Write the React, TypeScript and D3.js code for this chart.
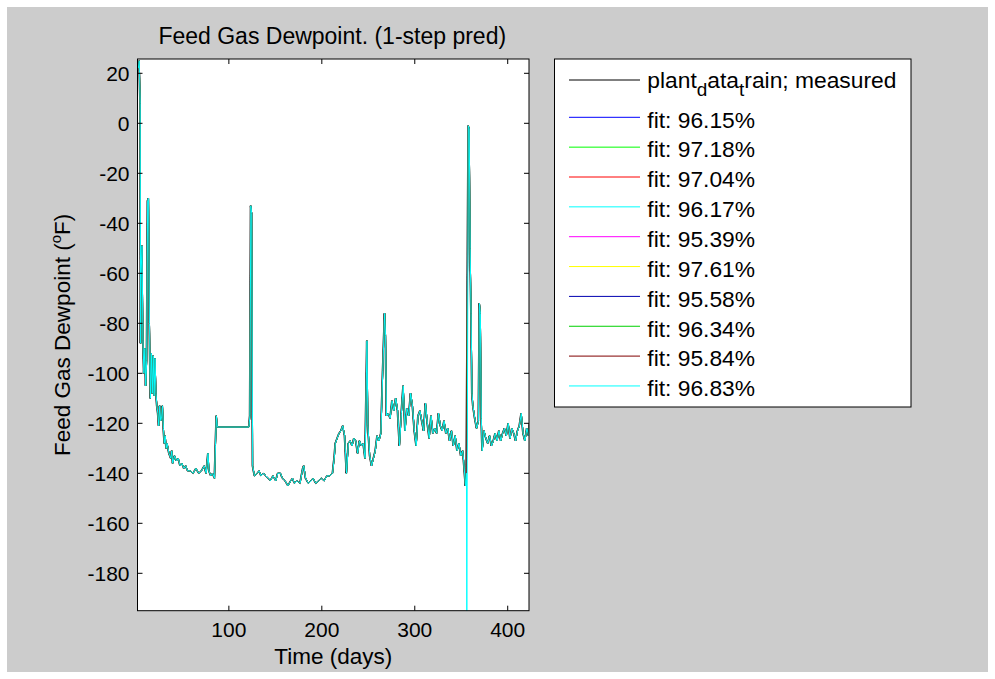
import React from 'react';
import * as d3 from 'd3';

// time axis (days) and measured dewpoint (degF)
const days = [
  2, 3, 4, 4.5, 5, 6, 7, 8, 9, 10, 11, 12, 13, 14, 15, 16, 17, 18, 19, 20,
  21, 22, 23, 24, 25, 26, 27, 28, 29, 30, 31, 32, 33, 35, 37, 38, 39, 41, 43, 45,
  47, 49, 51, 53, 55, 58, 61, 64, 67, 70, 73, 75, 77, 78, 80, 82, 84, 85, 86, 87,
  121, 122, 123, 124, 125, 127, 130, 132, 134, 137, 139, 142, 144, 147, 150, 152, 155, 157, 160, 163,
  166, 168, 170, 173, 176, 179, 180, 182, 185, 188, 190, 193, 196, 199, 202, 205, 208, 211, 213, 214,
  216, 218, 220, 222, 224, 226, 228, 230, 232, 234, 236, 238, 240, 242, 244, 246, 248, 249, 251, 253,
  255, 257, 259, 261, 263, 265, 267, 268, 269, 271, 273, 275, 277, 279, 281, 283, 285, 287, 289, 291,
  293, 295, 297, 299, 301, 303, 305, 307, 309, 311, 313, 315, 317, 319, 321, 323, 325, 327, 329, 331,
  333, 335, 337, 339, 341, 343, 345, 347, 349, 351, 352, 354, 355, 357, 358, 359, 360, 361, 362, 364,
  366, 368, 369, 370, 371, 372, 374, 376, 378, 380, 382, 384, 386, 388, 390, 392, 394, 396, 398, 400,
  402, 404, 406, 408, 410, 412, 414, 416, 418, 420, 422, 423,
];

const measured = [
  22, 25, 8, -88, -60, -49, -87, -100, -90, -105, -95, -31, -30, -80, -110, -92, -108, -93, -109, -94,
  -108, -113, -116, -121, -113, -119, -118, -113, -122, -128, -125, -130, -128, -132, -134, -131, -136, -133, -135, -134,
  -137, -136, -138, -137, -139, -139, -140, -138, -140, -139, -137, -140, -132, -139, -141, -140, -142, -129, -117, -121.5,
  -121.5, -117, -33, -36, -137, -141, -140, -139, -141, -140, -141, -142, -143, -141, -143, -140, -140, -142, -143, -145,
  -143, -142, -144, -143, -144, -138, -137, -142, -144, -143, -142, -144, -143, -142, -143, -141, -141, -140, -133, -128,
  -126, -124, -123, -121, -125, -140, -128, -127, -129, -126, -127, -132, -127, -129, -128, -134, -87, -121, -133, -137,
  -134, -131, -125, -127, -124, -99, -76, -85, -117, -116, -118, -111, -115, -110, -115, -129, -116, -105, -123, -114,
  -117, -108, -113, -123, -129, -117, -115, -119, -123, -112, -120, -126, -117, -124, -122, -124, -116, -121, -123, -119,
  -124, -122, -127, -123, -129, -125, -131, -128, -133, -131, -135, -145, -140, -1, -2, -50, -76, -108, -113, -118,
  -122, -119, -72, -76, -118, -131, -123, -126, -128, -125, -129, -127, -124, -127, -123, -127, -124, -122, -125, -120,
  -126, -122, -124, -127, -123, -121, -116, -124, -127, -122, -125, -120,
];

const fitLabels = ['96.15', '97.18', '97.04', '96.17', '95.39', '97.61', '95.58', '96.34', '95.84', '96.83'];
const fitColors = ['#0000ff', '#00ff00', '#ff0000', '#00ffff', '#ff00ff', '#ffff00', '#0000b0', '#00d000', '#800000', '#00ffff'];

// 1-step predictions trail the measurement by one sample period (days)
const predLag = 0.6;

// the last model has one far outlier just before the big spike
const outlierDay = 356;
const outlierValue = -195;

const xTicks = [100, 200, 300, 400];
const yTicks = [20, 0, -20, -40, -60, -80, -100, -120, -140, -160, -180];

const FONT = '"Liberation Sans", Arial, Helvetica, sans-serif';

export default function App() {
  const W = 995, H = 679;
  const left = 137.5, right = 529, top = 59, bottom = 610.7;

  const x = d3.scaleLinear().domain([1.7, 422.9]).range([left, right]);
  const y = d3.scaleLinear().domain([-194.96, 25.72]).range([bottom, top]);

  const line = d3.line<[number, number]>()
    .x(d => x(d[0]))
    .y(d => y(d[1]));

  const measPts: [number, number][] = days.map((d, i) => [d, measured[i]]);

  const predPts = (k: number): [number, number][] => {
    const pts: [number, number][] = days.map((d, i) => [d + predLag, measured[i]]);
    if (k === fitLabels.length - 1) {
      pts.push([outlierDay, outlierValue]);
      pts.sort((a, b) => a[0] - b[0]);
    }
    return pts;
  };

  const legRowY = (i: number) => (i === 0 ? 80 : 117.3 + (i - 1) * 29.85);

  return (
    <svg width={W} height={H} style={{ position: 'absolute', left: 0, top: 0 }} fontFamily={FONT}>
      <rect x={0} y={0} width={W} height={H} fill="#ffffff" />
      <rect x={7} y={7} width={W - 14} height={H - 14} fill="#cccccc" />

      <text x={(left + right) / 2 - 1} y={43.5} fontSize={23} textAnchor="middle" fill="#000">
        Feed Gas Dewpoint. (1-step pred)
      </text>

      <rect x={left} y={top} width={right - left} height={bottom - top} fill="#ffffff" />

      <defs>
        <clipPath id="plotclip">
          <rect x={left} y={top} width={right - left} height={bottom - top} />
        </clipPath>
      </defs>

      <g clipPath="url(#plotclip)" fill="none" strokeWidth={1}>
        <path d={line(measPts) || ''} stroke="#000000" />
        {fitColors.map((c, k) => (
          <path key={k} d={line(predPts(k)) || ''} stroke={c} />
        ))}
      </g>

      {/* box and ticks */}
      <rect x={left} y={top} width={right - left} height={bottom - top} fill="none" stroke="#000" strokeWidth={1} />
      {xTicks.map(t => (
        <g key={'x' + t}>
          <line x1={x(t)} x2={x(t)} y1={bottom} y2={bottom - 5} stroke="#000" />
          <line x1={x(t)} x2={x(t)} y1={top} y2={top + 5} stroke="#000" />
          <text x={x(t)} y={636.7} fontSize={21} textAnchor="middle" fill="#000">{t}</text>
        </g>
      ))}
      {yTicks.map(t => (
        <g key={'y' + t}>
          <line x1={left} x2={left + 5} y1={y(t)} y2={y(t)} stroke="#000" />
          <line x1={right} x2={right - 5} y1={y(t)} y2={y(t)} stroke="#000" />
          <text x={left - 8} y={y(t) + 8} fontSize={21} textAnchor="end" fill="#000">{t}</text>
        </g>
      ))}

      <text x={(left + right) / 2} y={664} fontSize={22.5} textAnchor="middle" fill="#000">Time (days)</text>

      <text transform={`translate(70,${(top + bottom) / 2}) rotate(-90)`} fontSize={22.5} textAnchor="middle" fill="#000">
        Feed Gas Dewpoint (<tspan fontSize={15} dy={-9}>o</tspan><tspan dy={9}>F)</tspan>
      </text>

      {/* legend */}
      <rect x={554.5} y={59} width={356.5} height={348} fill="#ffffff" stroke="#000" strokeWidth={1} />
      <g>
        <line x1={569} x2={640} y1={legRowY(0)} y2={legRowY(0)} stroke="#000000" strokeWidth={1} />
        <text x={647.3} y={legRowY(0) + 7.5} fontSize={22.8} fill="#000">
          plant<tspan fontSize={19} dy={8}>d</tspan><tspan dy={-8}>ata</tspan><tspan fontSize={19} dy={8}>t</tspan><tspan dy={-8}>rain; measured</tspan>
        </text>
        {fitLabels.map((l, i) => (
          <g key={l + i}>
            <line x1={569} x2={640} y1={legRowY(i + 1)} y2={legRowY(i + 1)} stroke={fitColors[i]} strokeWidth={1} />
            <text x={647.3} y={legRowY(i + 1) + 10.3} fontSize={22.8} fill="#000">{`fit: ${l}%`}</text>
          </g>
        ))}
      </g>
    </svg>
  );
}
